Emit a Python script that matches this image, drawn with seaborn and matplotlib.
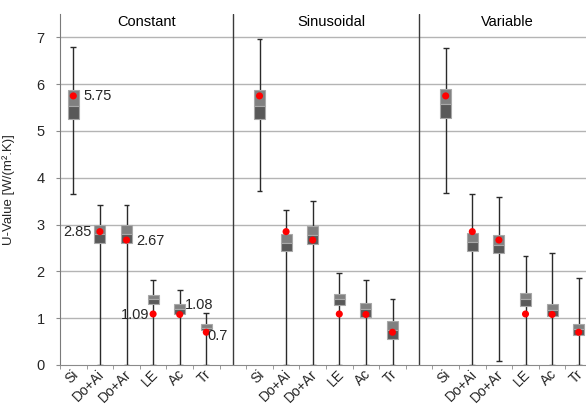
import matplotlib
matplotlib.use("Agg")
import matplotlib.pyplot as plt
import matplotlib.transforms as mtransforms
import numpy as np
import pandas as pd
import seaborn as sns

# ---------------- data ----------------
panels = ["Constant", "Sinusoidal", "Variable"]
categories = ["Si", "Do+Ai", "Do+Ar", "LE", "Ac", "Tr"]

# per panel: whisker top, Q3, median, Q1, whisker bottom
whisker_high = [
    [6.79, 3.41, 3.41, 1.81, 1.60, 1.12],
    [6.97, 3.32, 3.51, 1.96, 1.81, 1.41],
    [6.77, 3.66, 3.58, 2.33, 2.40, 1.85],
]
q3 = [
    [5.87, 2.99, 3.00, 1.49, 1.30, 0.87],
    [5.88, 2.80, 2.98, 1.51, 1.32, 0.95],
    [5.90, 2.83, 2.78, 1.54, 1.31, 0.87],
]
median = [
    [5.53, 2.80, 2.79, 1.40, 1.19, 0.80],
    [5.53, 2.60, 2.77, 1.40, 1.19, 0.75],
    [5.58, 2.62, 2.56, 1.40, 1.17, 0.77],
]
q1 = [
    [5.25, 2.60, 2.60, 1.30, 1.09, 0.75],
    [5.25, 2.43, 2.59, 1.28, 1.03, 0.56],
    [5.28, 2.43, 2.40, 1.27, 1.05, 0.65],
]
whisker_low = [
    [3.66, 0.0, 0.0, 0.0, 0.0, 0.0],
    [3.71, 0.0, 0.0, 0.0, 0.0, 0.0],
    [3.68, 0.0, 0.08, 0.0, 0.0, 0.0],
]
measured = [5.75, 2.85, 2.67, 1.09, 1.08, 0.70]
measured_labels = ["5.75", "2.85", "2.67", "1.09", "1.08", "0.7"]
yticks = [0, 1, 2, 3, 4, 5, 6, 7]

# ---------------- table ----------------
rows = []
for p, panel in enumerate(panels):
    for i, cat in enumerate(categories):
        rows.append(dict(panel=panel, cat=cat, pos=p * 7 + i,
                         hi=whisker_high[p][i], q3=q3[p][i], med=median[p][i],
                         q1=q1[p][i], lo=whisker_low[p][i], meas=measured[i]))
df = pd.DataFrame(rows)

# ---------------- style ----------------
sns.set_style("white")
plt.rcParams["font.family"] = ["Liberation Sans", "DejaVu Sans"]

W, H = 586, 408
fig = plt.figure(figsize=(W / 100, H / 100), dpi=100)
left_px, right_px, top_px, bottom_px = 60, 592, 14, 365
ax = fig.add_axes([left_px / W, (H - bottom_px) / H,
                   (right_px - left_px) / W, (bottom_px - top_px) / H])

ax.set_xlim(-0.5, 19.5)
ax.set_ylim(0, 7.5)

# grid
for y in yticks[1:]:
    ax.axhline(y, color="#b4b4b4", lw=1.0, zorder=0)

# separators
for sx in [6, 13]:
    ax.axvline(sx, color="#3a3a3a", lw=1.0, zorder=1)

# whiskers + caps
ax.vlines(df.pos, df.lo, df.hi, color="#2a2a2a", lw=1.0, zorder=2)
cw = 0.11
ax.hlines(df.hi, df.pos - cw, df.pos + cw, color="#2a2a2a", lw=1.0, zorder=2)
ax.hlines(df.lo, df.pos - cw, df.pos + cw, color="#2a2a2a", lw=1.0, zorder=2)

# boxes
bw = 0.42
ax.bar(df.pos, df.q3 - df.med, bottom=df.med, width=bw, color="#808080",
       edgecolor="#a8a8a8", lw=0.8, zorder=3)
ax.bar(df.pos, df.med - df.q1, bottom=df.q1, width=bw, color="#595959",
       edgecolor="#a8a8a8", lw=0.8, zorder=3)

# measured points
sns.scatterplot(data=df, x="pos", y="meas", color="#ff0000", s=26,
                edgecolor="none", zorder=4, ax=ax, legend=False)

# annotations (first panel)
offsets = [(7, 0, "left"), (-6, 0, "right"), (7, -1, "left"),
           (-3, -1, "right"), (4, 7, "left"), (1, -3, "left")]
for i, (dx, dy, ha) in enumerate(offsets):
    ax.annotate(measured_labels[i], (i, measured[i]), xytext=(dx, dy),
                textcoords="offset points", ha=ha, va="center",
                fontsize=10.5, color="#262626", zorder=5)

# panel titles
for px, name in zip([2.75, 9.7, 16.3], panels):
    ax.text(px, 7.32, name, ha="center", va="center", fontsize=10.5,
            color="#000000")

# axes styling
for s in ["top", "right"]:
    ax.spines[s].set_visible(False)
ax.spines["left"].set_color("#7a7a7a")
ax.spines["bottom"].set_color("#8a8a8a")
ax.spines["left"].set_zorder(1)

ax.set_yticks(yticks)
ax.set_yticklabels([str(v) for v in yticks], fontsize=10.5, color="#262626")
ax.tick_params(axis="y", length=3, color="#8a8a8a", pad=8, direction="out",
               left=True)

ax.set_xticks(df.pos)
ax.set_xticklabels(df.cat, rotation=45, ha="right", va="center",
                   rotation_mode="anchor", fontsize=10, color="#262626")
ax.tick_params(axis="x", length=0, pad=5)
ax.set_xticks(np.arange(-0.5, 20, 1.0), minor=True)
ax.tick_params(axis="x", which="minor", length=3, color="#8a8a8a",
               direction="out", bottom=True)
shift = mtransforms.ScaledTranslation(2.5 / 100, 0, fig.dpi_scale_trans)
for lab in ax.get_xticklabels():
    lab.set_transform(lab.get_transform() + shift)

ax.set_xlabel("")
ax.set_ylabel("U-Value [W/(m².K)]", fontsize=9.5, color="#262626", labelpad=8)
ax.yaxis.set_label_coords(-(60 - 15) / (right_px - left_px), 0.5)

fig.savefig("out.png", dpi=100)
